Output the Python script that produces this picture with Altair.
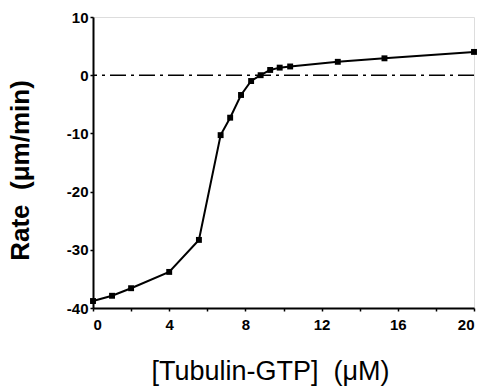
import altair as alt
import pandas as pd

conc = [0.0, 1.0, 2.0, 4.0, 5.56, 6.7, 7.2, 7.77, 8.3, 8.8, 9.3, 9.8, 10.35, 12.85, 15.3, 20.0]
rate = [-38.8, -37.9, -36.6, -33.8, -28.3, -10.3, -7.3, -3.4, -1.0, 0.0, 0.9, 1.3, 1.5, 2.3, 2.9, 4.0]
x_ticks = [0, 2, 4, 6, 8, 10, 12, 14, 16, 18, 20]
y_ticks = [-40, -35, -30, -25, -20, -15, -10, -5, 0, 5, 10]

df = pd.DataFrame({"conc": conc, "rate": rate})
zero = pd.DataFrame({"y": [0]})

FONT = "Liberation Sans"

x_enc = alt.X("conc:Q",
              scale=alt.Scale(domain=[0, 20], nice=False, zero=False),
              axis=alt.Axis(values=x_ticks, title="[Tubulin-GTP]\u00a0\u00a0(μM)",
                            labelExpr="datum.value % 4 == 0 ? datum.label : ''",
                            tickSize=3, labelPadding=6, titlePadding=26,
                            titleX=177,
                            grid=False, domainColor="black", domainWidth=2,
                            tickColor="black", tickWidth=1.5,
                            labelFont=FONT, labelFontWeight="bold", labelFontSize=15,
                            labelColor="black",
                            titleFont=FONT, titleFontWeight="normal", titleFontSize=27,
                            titleColor="black"))
y_enc = alt.Y("rate:Q",
              scale=alt.Scale(domain=[-40, 10], nice=False, zero=False),
              axis=alt.Axis(values=y_ticks, title="Rate\u00a0\u00a0(μm/min)",
                            labelExpr="datum.value % 10 == 0 ? replace(datum.label, '\u2212', '-') : ''",
                            tickSize=3, labelPadding=2, titlePadding=33,
                            titleY=153,
                            grid=False, domainColor="black", domainWidth=2,
                            tickColor="black", tickWidth=1.5,
                            labelFont=FONT, labelFontWeight="bold", labelFontSize=15,
                            labelColor="black",
                            titleFont=FONT, titleFontWeight="bold", titleFontSize=26,
                            titleColor="black"))

line = alt.Chart(df).mark_line(
    color="black", strokeWidth=2,
    point=alt.OverlayMarkDef(filled=True, color="black", size=35, shape="square")
).encode(x=x_enc, y=y_enc)

rule = alt.Chart(zero).mark_rule(color="black", strokeWidth=1.5,
                                 strokeDash=[16, 5, 3, 5]).encode(y=alt.Y("y:Q"))

chart = alt.layer(rule, line).properties(
    width=381, height=291,
    autosize=alt.AutoSizeParams(type="none"),
    padding={"left": 93, "top": 17, "right": 5, "bottom": 83},
).configure_view(stroke="black", strokeWidth=2).configure(background="white")

chart.save("out.html", embed_options={"renderer": "svg", "actions": False})
